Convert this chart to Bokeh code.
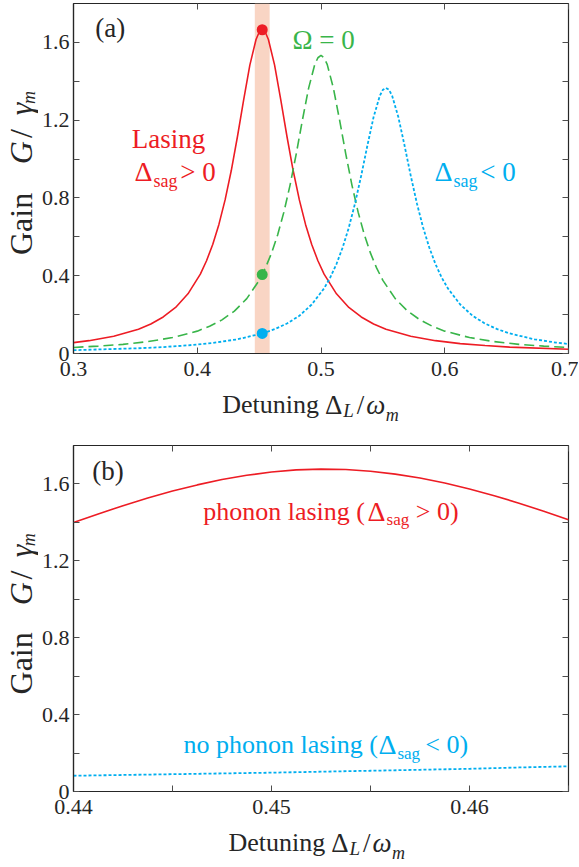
from bokeh.plotting import figure
from bokeh.models import FixedTicker, Label, LinearAxis, Range1d
from bokeh.layouts import column, row
from bokeh.embed import file_html
from bokeh.resources import INLINE

# ---------------- data: panel (a) ----------------
red_x = [0.3000, 0.3125, 0.3325, 0.3525, 0.3625, 0.3725, 0.3825, 0.3925, 0.4025, 0.4075,
         0.4125, 0.4175, 0.4225, 0.4275, 0.4325, 0.4375, 0.4425, 0.4475, 0.4500, 0.4525,
         0.4550, 0.4575, 0.4625, 0.4675, 0.4725, 0.4775, 0.4825, 0.4875, 0.4925, 0.4975,
         0.5025, 0.5125, 0.5225, 0.5325, 0.5425, 0.5525, 0.5725, 0.5925, 0.6125, 0.6325,
         0.6525, 0.7000]
red_y = [0.056, 0.066, 0.089, 0.125, 0.152, 0.188, 0.237, 0.307, 0.408, 0.477,
         0.561, 0.664, 0.790, 0.941, 1.116, 1.304, 1.483, 1.615, 1.652, 1.665,
         1.652, 1.615, 1.483, 1.304, 1.116, 0.941, 0.790, 0.664, 0.561, 0.477,
         0.408, 0.307, 0.237, 0.188, 0.152, 0.125, 0.089, 0.066, 0.051, 0.041,
         0.033, 0.022]

green_x = [0.30, 0.32, 0.34, 0.36, 0.38, 0.40, 0.41, 0.42, 0.43, 0.44,
           0.45, 0.455, 0.46, 0.465, 0.47, 0.475, 0.48, 0.485, 0.49, 0.495,
           0.4975, 0.50, 0.5025, 0.505, 0.51, 0.515, 0.52, 0.525, 0.53, 0.535,
           0.54, 0.545, 0.55, 0.56, 0.57, 0.58, 0.59, 0.60, 0.62, 0.64,
           0.66, 0.68, 0.70]
green_y = [0.031, 0.038, 0.047, 0.061, 0.082, 0.115, 0.140, 0.173, 0.218, 0.282,
           0.376, 0.439, 0.516, 0.611, 0.727, 0.866, 1.027, 1.201, 1.365, 1.487,
           1.521, 1.533, 1.521, 1.487, 1.365, 1.201, 1.027, 0.866, 0.727, 0.611,
           0.516, 0.439, 0.376, 0.282, 0.218, 0.173, 0.140, 0.115, 0.082, 0.061,
           0.047, 0.038, 0.031]

blue_x = [0.30, 0.3525, 0.3725, 0.3925, 0.4125, 0.4325, 0.4525, 0.4625, 0.4725, 0.4825,
          0.4925, 0.5025, 0.5075, 0.5125, 0.5175, 0.5225, 0.5275, 0.5325, 0.5375, 0.5425,
          0.5475, 0.55, 0.5525, 0.555, 0.5575, 0.5625, 0.5675, 0.5725, 0.5775, 0.5825,
          0.5875, 0.5925, 0.5975, 0.6025, 0.6125, 0.6225, 0.6325, 0.6425, 0.6525, 0.6725,
          0.69, 0.70]
blue_y = [0.017, 0.027, 0.033, 0.042, 0.054, 0.073, 0.103, 0.125, 0.154, 0.194,
          0.252, 0.335, 0.391, 0.460, 0.545, 0.648, 0.772, 0.915, 1.070, 1.216,
          1.325, 1.356, 1.366, 1.356, 1.325, 1.216, 1.070, 0.915, 0.772, 0.648,
          0.545, 0.460, 0.391, 0.335, 0.252, 0.194, 0.154, 0.125, 0.103, 0.073,
          0.056, 0.049]

band_left = [0.4465]
band_right = [0.4585]
dot_x = [0.4525, 0.4525, 0.4525]
dot_y = [1.665, 0.406, 0.103]

xa_ticks = [0.3, 0.4, 0.5, 0.6, 0.7]
xa_labels = ["0.3", "0.4", "0.5", "0.6", "0.7"]
y_ticks = [0, 0.2, 0.4, 0.6, 0.8, 1.0, 1.2, 1.4, 1.6]
y_labels = ["0", "", "0.4", "", "0.8", "", "1.2", "", "1.6"]

# ---------------- data: panel (b) ----------------
b_red_x = [0.44, 0.44125, 0.4425, 0.44375, 0.445, 0.44625, 0.4475, 0.44875, 0.45, 0.45125,
           0.4525, 0.45375, 0.455, 0.45625, 0.4575, 0.45875, 0.46, 0.46125, 0.4625, 0.46375,
           0.465]
b_red_y = [1.399, 1.444, 1.487, 1.527, 1.563, 1.595, 1.623, 1.645, 1.662, 1.673,
           1.677, 1.675, 1.666, 1.651, 1.631, 1.605, 1.574, 1.539, 1.500, 1.458,
           1.414]
b_blue_x = [0.44, 0.4425, 0.445, 0.4475, 0.45, 0.4525, 0.455, 0.4575, 0.46, 0.4625, 0.465]
b_blue_y = [0.082, 0.086, 0.090, 0.094, 0.098, 0.103, 0.108, 0.113, 0.118, 0.125, 0.131]

xb_ticks = [0.44, 0.445, 0.45, 0.455, 0.46, 0.465]
xb_labels = ["0.44", "", "0.45", "", "0.46", ""]

# ---------------- style ----------------
FONT = "Liberation Serif, Times New Roman, DejaVu Serif, serif"
INK = "#262626"
TICK = "#4d4d4d"
RED = "#ED1C24"
GREEN = "#39B54A"
BLUE = "#00AEEF"
BAND = "#F9D5C4"
LIFT = 0.33   # baseline correction, in em


def make_fig(xr, frame_h, top, bottom, xticks, xlabels):
    p = figure(frame_width=495, frame_height=frame_h,
               x_range=Range1d(xr[0], xr[1]), y_range=Range1d(0, 1.8),
               min_border_left=32, min_border_right=10,
               min_border_top=top, min_border_bottom=bottom,
               output_backend="svg", toolbar_location=None)
    p.grid.visible = False
    p.background_fill_color = "white"
    p.border_fill_color = "white"
    p.outline_line_color = INK
    p.outline_line_width = 1.2
    p.outline_line_alpha = 1.0
    for ax, ticks, labels in ((p.xaxis[0], xticks, xlabels), (p.yaxis[0], y_ticks, y_labels)):
        ax.ticker = FixedTicker(ticks=ticks)
        ax.major_label_overrides = dict(zip(ticks, labels))
        ax.major_label_text_font = FONT
        ax.major_label_text_font_size = "22px"
        ax.major_label_text_color = INK
        ax.major_tick_in = 6
        ax.major_tick_out = 0
        ax.major_tick_line_color = TICK
        ax.minor_tick_line_color = None
        ax.axis_line_color = INK
        ax.axis_line_width = 1.2
    p.xaxis[0].major_label_standoff = 8
    p.yaxis[0].major_label_standoff = 4
    top_ax = LinearAxis(ticker=FixedTicker(ticks=xticks),
                        major_label_overrides={t: "" for t in xticks},
                        major_label_text_font_size="0px", major_label_standoff=0,
                        major_tick_in=6, major_tick_out=0, minor_tick_line_color=None,
                        major_tick_line_color=TICK, axis_line_color=None)
    p.add_layout(top_ax, "above")
    right_ax = LinearAxis(ticker=FixedTicker(ticks=y_ticks),
                          major_label_overrides={t: "" for t in y_ticks},
                          major_label_text_font_size="0px", major_label_standoff=0,
                          major_tick_in=6, major_tick_out=0, minor_tick_line_color=None,
                          major_tick_line_color=TICK, axis_line_color=None)
    p.add_layout(right_ax, "right")
    return p


def text_fig(w, h):
    # blank pixel-ranged canvas that only carries the axis-title texts
    p = figure(width=w, height=h, x_range=Range1d(0, w), y_range=Range1d(0, h),
               x_axis_location=None, y_axis_location=None, min_border=0,
               output_backend="svg", toolbar_location=None)
    p.outline_line_color = None
    p.background_fill_color = "white"
    p.border_fill_color = "white"
    p.grid.visible = False
    return p


def txt(p, x, y, s, size, color, style="normal", angle=0.0):
    lift = LIFT * size
    xo, yo = (0, lift) if angle == 0.0 else (-lift, 0)
    p.add_layout(Label(x=x, y=y, text=s, text_font=FONT, text_font_size=f"{size}px",
                       text_color=color, text_font_style=style, text_align="left",
                       text_baseline="alphabetic", angle=angle, x_offset=xo, y_offset=yo))


def ylabel(p, ys):
    a = 1.5707963
    txt(p, 31.0, ys[0], "Gain", 32, INK, angle=a)
    txt(p, 31.0, ys[1], "G", 32, INK, "italic", angle=a)
    txt(p, 31.0, ys[2], "/", 32, INK, angle=a)
    txt(p, 31.0, ys[3], "\u03b3", 32, INK, "italic", angle=a)
    txt(p, 34.0, ys[4], "m", 18, INK, "italic", angle=a)


def xlabel(p, x0, base):
    txt(p, x0, base, "Detuning", 26, INK)
    txt(p, x0 + 102.8, base, "\u0394", 27, INK)
    txt(p, x0 + 121.0, base - 3, "L", 19, INK, "italic")
    txt(p, x0 + 134.6, base, "/", 27, INK)
    txt(p, x0 + 144.0, base, "\u03c9", 27, INK, "italic")
    txt(p, x0 + 163.5, base - 7, "m", 18, INK, "italic")


# ---------------- panel (a) ----------------
pa = make_fig((0.3, 0.7), 350, 3, 37, xa_ticks, xa_labels)
pa.quad(left=band_left, right=band_right, bottom=0, top=1.8, fill_color=BAND, line_color=None)
pa.line(red_x, red_y, line_color=RED, line_width=1.6)
pa.line(green_x, green_y, line_color=GREEN, line_width=1.6, line_dash="10 5")
pa.line(blue_x, blue_y, line_color=BLUE, line_width=1.8, line_dash="3 2")
pa.scatter(dot_x, dot_y, size=11, fill_color=[RED, GREEN, BLUE], line_color=None)

txt(pa, 0.3175, 1.630, "(a)", 27, INK)
txt(pa, 0.4770, 1.567, "\u03a9 = 0", 27, GREEN)
txt(pa, 0.3471, 1.057, "Lasing", 27, RED)
txt(pa, 0.3493, 0.887, "\u0394", 28, RED)
txt(pa, 0.3647, 0.855, "sag", 18, RED)
txt(pa, 0.3862, 0.887, "> 0", 27, RED)
txt(pa, 0.5917, 0.887, "\u0394", 28, BLUE)
txt(pa, 0.6071, 0.855, "sag", 18, BLUE)
txt(pa, 0.6287, 0.887, "< 0", 27, BLUE)

yla = text_fig(38, 390)
ylabel(yla, [109.7, 211.0, 240.0, 265.6, 278.0])
xla = text_fig(575, 50)
xlabel(xla, 221.7, 27)

# ---------------- panel (b) ----------------
pb = make_fig((0.44, 0.465), 346, 5, 37, xb_ticks, xb_labels)
pb.line(b_red_x, b_red_y, line_color=RED, line_width=1.6)
pb.line(b_blue_x, b_blue_y, line_color=BLUE, line_width=1.8, line_dash="3 2")

txt(pb, 0.44095, 1.619, "(b)", 27, INK)
txt(pb, 0.44655, 1.411, "phonon lasing (", 26, RED)
txt(pb, 0.45485, 1.411, "\u0394", 28, RED)
txt(pb, 0.45581, 1.386, "sag", 17, RED)
txt(pb, 0.45729, 1.411, "> 0)", 26, RED)
txt(pb, 0.44556, 0.199, "no phonon lasing (", 26, BLUE)
txt(pb, 0.45540, 0.199, "\u0394", 28, BLUE)
txt(pb, 0.45636, 0.170, "sag", 17, BLUE)
txt(pb, 0.45777, 0.199, "< 0)", 26, BLUE)

ylb = text_fig(38, 388)
ylabel(ylb, [108.8, 208.9, 237.6, 262.8, 275.1])
xlb = text_fig(575, 38)
xlabel(xlb, 228.0, 15)

layout = column(row(yla, pa, spacing=0), xla, row(ylb, pb, spacing=0), xlb, spacing=0)
open("out.html", "w").write(file_html(layout, INLINE))
